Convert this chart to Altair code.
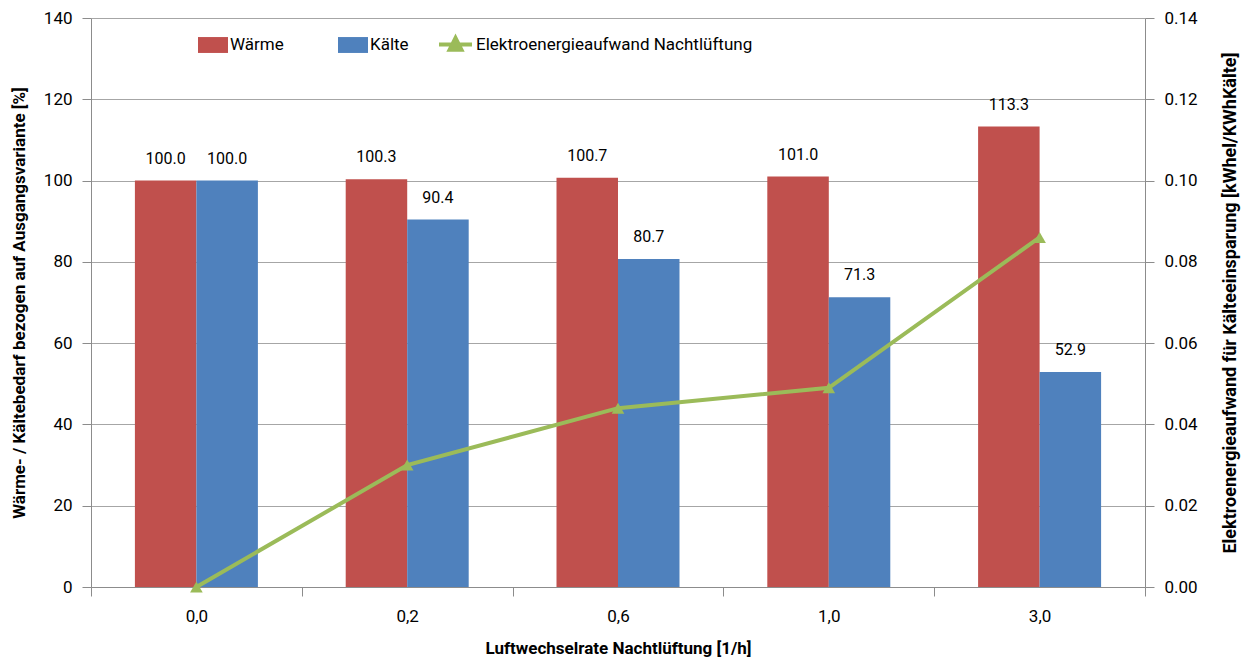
import altair as alt
import pandas as pd

categories = ["0,0", "0,2", "0,6", "1,0", "3,0"]
waerme = [100.0, 100.3, 100.7, 101.0, 113.3]
kaelte = [100.0, 90.4, 80.7, 71.3, 52.9]
elektro = [0.000, 0.030, 0.044, 0.049, 0.086]
series_bars = ["Wärme", "Kälte"]
series_line = "Elektroenergieaufwand Nachtlüftung"

FONT = "Roboto"

rows = []
for c, w, k in zip(categories, waerme, kaelte):
    rows.append({"cat": c, "series": "Wärme", "value": w, "label": f"{w:.1f}"})
    rows.append({"cat": c, "series": "Kälte", "value": k, "label": f"{k:.1f}"})
bar_df = pd.DataFrame(rows)
line_df = pd.DataFrame({"cat": categories, "value": elektro, "series": series_line})

X = alt.X("cat:N", sort=categories,
          scale=alt.Scale(paddingInner=0, paddingOuter=0),
          axis=alt.Axis(title="Luftwechselrate Nachtlüftung  [1/h]", labelAngle=0,
                        tickBand="extent", tickSize=9, labelPadding=12,
                        titlePadding=16, domainColor="#8C8C8C", tickColor="#8C8C8C"))
XO = alt.XOffset("series:N", sort=series_bars,
                 scale=alt.Scale(paddingInner=0, paddingOuter=0.714))

yleft = alt.Y("value:Q", scale=alt.Scale(domain=[0, 140]),
              axis=alt.Axis(title="Wärme- / Kältebedarf bezogen auf Ausgangsvariante  [%]",
                            values=list(range(0, 141, 20)), tickSize=9, labelPadding=10,
                            titlePadding=15, titleFontSize=17, grid=True, gridColor="#A6A6A6",
                            domainColor="#8C8C8C", tickColor="#8C8C8C"))

yright = alt.Y("value:Q", scale=alt.Scale(domain=[0, 0.14]),
               axis=alt.Axis(title="Elektroenergieaufwand  für Kälteeinsparung  [kWhel/KWhKälte]",
                             orient="right", values=[0, 0.02, 0.04, 0.06, 0.08, 0.10, 0.12, 0.14],
                             format=".2f", tickSize=9, labelPadding=10, titlePadding=42,
                             titleAngle=270, titleFontSize=18,
                             grid=False, domainColor="#8C8C8C", tickColor="#8C8C8C"))

bars = alt.Chart(bar_df).mark_bar(size=61.5).encode(
    x=X, xOffset=XO, y=yleft,
    color=alt.Color("series:N", sort=series_bars,
                    scale=alt.Scale(domain=series_bars, range=["#C0504D", "#4F81BD"]),
                    legend=alt.Legend(title=None, orient="none", direction="horizontal",
                                      legendX=107, legendY=12,
                                      symbolType="M-1,-0.53H1V0.53H-1Z", symbolSize=900,
                                      symbolStrokeWidth=0, labelOffset=2,
                                      columnPadding=54, padding=0)),
)

labels = alt.Chart(bar_df).mark_text(dy=-22, fontSize=16, font=FONT, color="#000000").encode(
    x=X, xOffset=XO, y=yleft, text="label:N",
)

line = alt.Chart(line_df).mark_line(strokeWidth=4).encode(
    x=X, y=yright,
    stroke=alt.Stroke("series:N",
                      scale=alt.Scale(domain=[series_line], range=["#9BBB59"]),
                      legend=alt.Legend(title=None, orient="none", legendX=346, legendY=8,
                                        symbolType="M-1,0H1M-0.36,0.32L0,-0.4L0.36,0.32Z",
                                        symbolSize=1089, symbolStrokeWidth=4,
                                        symbolFillColor="#9BBB59", labelOffset=2, padding=0,
                                        labelLimit=500)),
)
points = alt.Chart(line_df).mark_point(shape="triangle-up", filled=True, size=160,
                                       color="#9BBB59", opacity=1).encode(
    x=X, y=yright,
)

left = alt.layer(bars, labels)
right = alt.layer(line, points)

chart = alt.layer(left, right).resolve_scale(y="independent", color="independent").properties(
    width=1054, height=569,
    autosize=alt.AutoSizeParams(type="none"),
    padding={"left": 83, "top": 10, "right": 100, "bottom": 76},
).configure_view(stroke=None).configure_axis(
    labelFont=FONT, titleFont=FONT, labelFontSize=17, titleFontSize=17,
    labelColor="#000000", titleColor="#000000", titleFontWeight="bold",
).configure_legend(
    labelFont=FONT, labelFontSize=17, labelColor="#000000", labelLimit=500,
)

chart.save("out.html", embed_options={"renderer": "svg", "actions": False})
